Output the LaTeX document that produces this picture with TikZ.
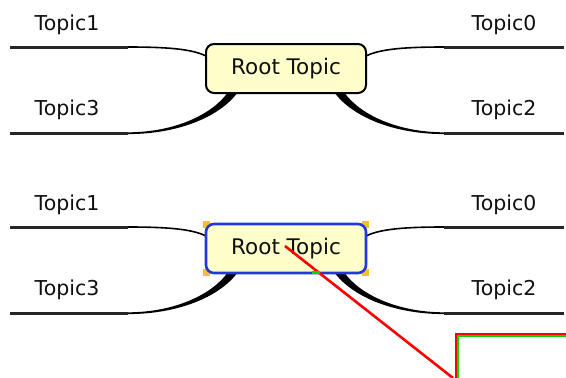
\documentclass[tikz,border=0pt]{standalone}
\usepackage{fontspec}
\setmainfont{DejaVu Sans}
\begin{document}
\begin{tikzpicture}[x=1pt,y=-1pt,
  rootbox/.style={draw=black,line width=2pt,fill=boxyellow,rounded corners=8pt,
    minimum width=160pt,minimum height=49pt,inner sep=0pt,
    font=\fontsize{21.5}{25}\selectfont,text=textgray},
  rootsel/.style={rootbox,draw=selblue,line width=2.6pt},
  label/.style={font=\fontsize{20.5}{24}\selectfont,text=textgray,inner sep=0pt},
  underline/.style={line width=3pt,draw=black!85},
  thinlink/.style={line width=1.6pt,draw=black},
  taper/.style={fill=black,draw=none},
  handle/.style={fill=handleorange,draw=none},
  pointer/.style={draw=red,line width=2.6pt},
  greenline/.style={draw=green!85!black,line width=2.2pt}
]
\definecolor{boxyellow}{RGB}{255,255,204}
\definecolor{textgray}{RGB}{15,15,15}
\definecolor{selblue}{RGB}{35,55,225}
\definecolor{handleorange}{RGB}{250,190,40}
\useasboundingbox (0,0) rectangle (566,378);
\fill[white] (0,0) rectangle (566,378);

% ---------- top map ----------
\node[label] (a1) at (67,25) {Topic1};
\node[label] (a3) at (67,110) {Topic3};
\node[label] (a0) at (504,25) {Topic0};
\node[label] (a2) at (504,110) {Topic2};
\coordinate (a1s) at (10,47);   \coordinate (a1e) at (128,47);
\coordinate (a3s) at (10,133);  \coordinate (a3e) at (128,133);
\coordinate (a0s) at (564,47);  \coordinate (a0e) at (444,47);
\coordinate (a2s) at (564,133); \coordinate (a2e) at (444,133);
\coordinate (ra1) at (208,57);  \coordinate (ra0) at (364,57);
\draw[underline] (a1s) -- (a1e);
\draw[underline] (a3s) -- (a3e);
\draw[underline] (a0s) -- (a0e);
\draw[underline] (a2s) -- (a2e);
\draw[thinlink] (a1e) .. controls (175,47) and (195,50) .. (ra1);
\draw[thinlink] (a0e) .. controls (397,47) and (377,50) .. (ra0);
\fill[taper] (128,132.3) .. controls (175,132.3) and (213,114) .. (228,92)
  -- (238,92) .. controls (219,118) and (176,134.1) .. (128,134.1) -- cycle;
\fill[taper] (444,132.3) .. controls (397,132.3) and (359,114) .. (344,92)
  -- (334,92) .. controls (353,118) and (396,134.1) .. (444,134.1) -- cycle;
\node[rootbox] (r1) at (286,68.5) {Root Topic};

% ---------- bottom map ----------
\node[label] (b1) at (67,205) {Topic1};
\node[label] (b3) at (67,290) {Topic3};
\node[label] (b0) at (504,205) {Topic0};
\node[label] (b2) at (504,290) {Topic2};
\coordinate (b1s) at (10,227);   \coordinate (b1e) at (128,227);
\coordinate (b3s) at (10,313);   \coordinate (b3e) at (128,313);
\coordinate (b0s) at (564,227);  \coordinate (b0e) at (444,227);
\coordinate (b2s) at (564,313);  \coordinate (b2e) at (444,313);
\coordinate (rb1) at (208,237);  \coordinate (rb0) at (364,237);
\draw[underline] (b1s) -- (b1e);
\draw[underline] (b3s) -- (b3e);
\draw[underline] (b0s) -- (b0e);
\draw[underline] (b2s) -- (b2e);
\draw[thinlink] (b1e) .. controls (175,227) and (195,230) .. (rb1);
\draw[thinlink] (b0e) .. controls (397,227) and (377,230) .. (rb0);
\fill[taper] (128,312.3) .. controls (175,312.3) and (213,294) .. (228,272)
  -- (238,272) .. controls (219,298) and (176,314.1) .. (128,314.1) -- cycle;
\fill[taper] (444,312.3) .. controls (397,312.3) and (359,294) .. (344,272)
  -- (334,272) .. controls (353,298) and (396,314.1) .. (444,314.1) -- cycle;
\fill[handle] (203,221) rectangle (210,228);
\fill[handle] (362,221) rectangle (369,228);
\fill[handle] (203,269) rectangle (210,276);
\fill[handle] (362,269) rectangle (369,276);
\node[rootsel] (r2) at (286,248.5) {Root Topic};

% ---------- pointer and frame ----------
\coordinate (p0) at (285,246);
\coordinate (p1) at (453,378);
\draw[pointer] (p0) -- (p1);
\draw[greenline] (312,272.5) -- (320,272.5);
\coordinate (fc) at (455.5,333.5);
\coordinate (fr) at (566,333.5);
\coordinate (fb) at (455.5,378);
\coordinate (gc) at (458,336);
\coordinate (gr) at (566,336);
\coordinate (gb) at (458,378);
\draw[greenline] (gb) -- (gc) -- (gr);
\draw[draw=red,line width=2pt] (fb) -- (fc) -- (fr);
\end{tikzpicture}
\end{document}
